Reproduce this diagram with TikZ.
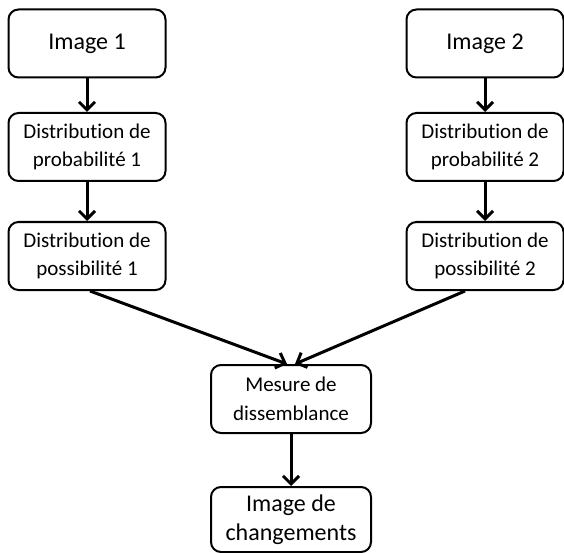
\documentclass[tikz,border=0pt]{standalone}
\usepackage{fontspec}
\setmainfont{Carlito}[Ligatures={NoCommon}]
\usetikzlibrary{
	arrows.meta,
	positioning
}
\tikzset{
	etape/.style={draw, rounded corners=10pt, line width=2pt, align=center,
		minimum width=157pt, minimum height=68pt, inner sep=2pt,
		font=\fontsize{21}{28.5}\selectfont},
	grand/.style={font=\fontsize{24}{29}\selectfont},
	fleche/.style={line width=3pt, -{Straight Barb[length=8pt,width=16pt,line width=3pt]}}
}
\begin{document}
\begin{tikzpicture}
[x=1pt, y=-1pt]
\useasboundingbox (0,0) rectangle (564,553);
% colonne de gauche
\node[etape, grand] (img1) at (87,43.5) {Image 1};
\node[etape] (prob1) at (87,147) {Distribution de\\probabilité 1};
\node[etape] (poss1) at (87,256) {Distribution de\\possibilité 1};
% colonne de droite
\node[etape, grand] (img2) at (485,43.5) {Image 2};
\node[etape] (prob2) at (485,147) {Distribution de\\probabilité 2};
\node[etape] (poss2) at (485,256) {Distribution de\\possibilité 2};
% bas
\node[etape, minimum width=160pt] (mes) at (291,399) {Mesure de\\dissemblance};
\node[etape, grand, minimum width=160pt, minimum height=65pt] (chg) at (291,519.5) {Image de\\changements};
% fleches
\draw[fleche] (img1) -- (prob1);
\draw[fleche] (prob1) -- (poss1);
\draw[fleche] (img2) -- (prob2);
\draw[fleche] (prob2) -- (poss2);
\draw[fleche] ([xshift=3pt]poss1.south) -- ([xshift=-4pt]mes.north);
\draw[fleche] ([xshift=-20pt]poss2.south) -- ([xshift=4pt]mes.north);
\draw[fleche] (mes) -- (chg);
\end{tikzpicture}
\end{document}
